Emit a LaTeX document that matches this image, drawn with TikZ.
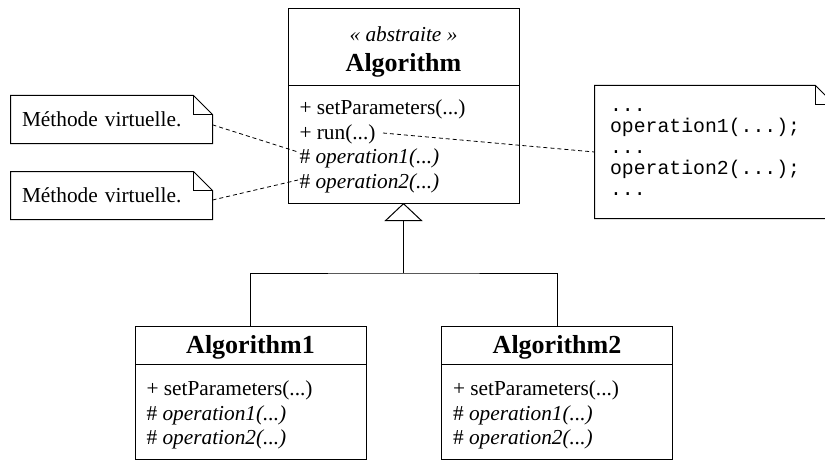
\documentclass[tikz,border=0pt]{standalone}
\usepackage{fontspec}
\setmainfont{Liberation Serif}
\setmonofont{Liberation Mono}
\usetikzlibrary{positioning,arrows.meta,calc}
\newcommand{\dogear}[1]{%
  \draw (#1.north west) -- ([xshift=-14.25pt]#1.north east) -- ([yshift=-14.25pt]#1.north east)
    -- (#1.south east) -- (#1.south west) -- cycle;
  \draw ([xshift=-14.25pt]#1.north east) |- ([yshift=-14.25pt]#1.north east);}

\begin{document}
\begin{tikzpicture}[x=0.75pt,y=-0.75pt,line width=0.75pt,
  cls/.style={draw,minimum width=173.25pt,inner sep=0pt,outer sep=0pt},
  nm/.style={font=\fontsize{19.5}{23}\selectfont\bfseries,anchor=base,inner sep=0pt},
  mb/.style={font=\fontsize{16}{18.4}\selectfont,align=left,anchor=north west,inner sep=0pt},
  nt/.style={minimum height=35.25pt,inner xsep=8.25pt,inner ysep=0pt,text width=134.25pt,
    align=left,font=\fontsize{16}{18}\selectfont},
  code/.style={minimum height=99pt,inner xsep=11.25pt,inner ysep=0pt,text width=156.75pt,
    align=left,font=\ttfamily\fontsize{14.85}{15.75}\selectfont},
  dsh/.style={line width=0.6pt,dash pattern=on 3pt off 2.25pt},
  gen/.style={-{Triangle[open,length=13.5pt,width=28.5pt]}}]
\useasboundingbox (0,0) rectangle (825,460);
\node[cls,minimum height=57.75pt] (algoT) at (403.5,47.5) {};
\node[cls,minimum height=87.75pt,below=0pt of algoT] (algoB) {};
\node[font=\fontsize{16}{18}\selectfont\itshape,anchor=base,inner sep=0pt] (algoSt) at ($(algoT.north)+(0,33)$) {« abstraite »};
\node[nm] (algoNm) at ($(algoT.north)+(0,63)$) {Algorithm};
\node[mb] (algoMb) at ($(algoB.north west)+(11,13.6)$) {+ setParameters(...)\\+ run(...)\\\# \textit{operation1(...)}\\\# \textit{operation2(...)}};
\node[cls,minimum height=28.5pt] (algOneT) at (250.5,345) {};
\node[cls,minimum height=71.25pt,below=0pt of algOneT] (algOneB) {};
\node[nm] (algOneNm) at ($(algOneT.north)+(0,27)$) {Algorithm1};
\node[mb] (algOneMb) at ($(algOneB.north west)+(11,16.6)$) {+ setParameters(...)\\\# \textit{operation1(...)}\\\# \textit{operation2(...)}};
\node[cls,minimum height=28.5pt] (algTwoT) at (557,345) {};
\node[cls,minimum height=71.25pt,below=0pt of algTwoT] (algTwoB) {};
\node[nm] (algTwoNm) at ($(algTwoT.north)+(0,27)$) {Algorithm2};
\node[mb] (algTwoMb) at ($(algTwoB.north west)+(11,16.6)$) {+ setParameters(...)\\\# \textit{operation1(...)}\\\# \textit{operation2(...)}};
\coordinate (jn) at (403.5,273);
\draw (algOneT.north) |- (jn) -| (algTwoT.north);
\draw[gen] (jn) -- (algoB.south);
\node[nt] (noteA) at (111.5,119.5) {Méthode virtuelle.};
\node[nt] (noteB) at (111.5,195.5) {Méthode virtuelle.};
\node[code] (noteC) at (714.5,152) {...\\operation1(...);\\...\\operation2(...);\\...};
\dogear{noteA}
\dogear{noteB}
\dogear{noteC}
\coordinate (opOne) at (298,152);
\coordinate (opTwo) at (298,180);
\coordinate (runR) at (383,133);
\draw[dsh] ([yshift=-4pt]noteA.east) -- (opOne);
\draw[dsh] ([yshift=-3.4pt]noteB.east) -- (opTwo);
\draw[dsh] (runR) -- (noteC.west);
\end{tikzpicture}
\end{document}
